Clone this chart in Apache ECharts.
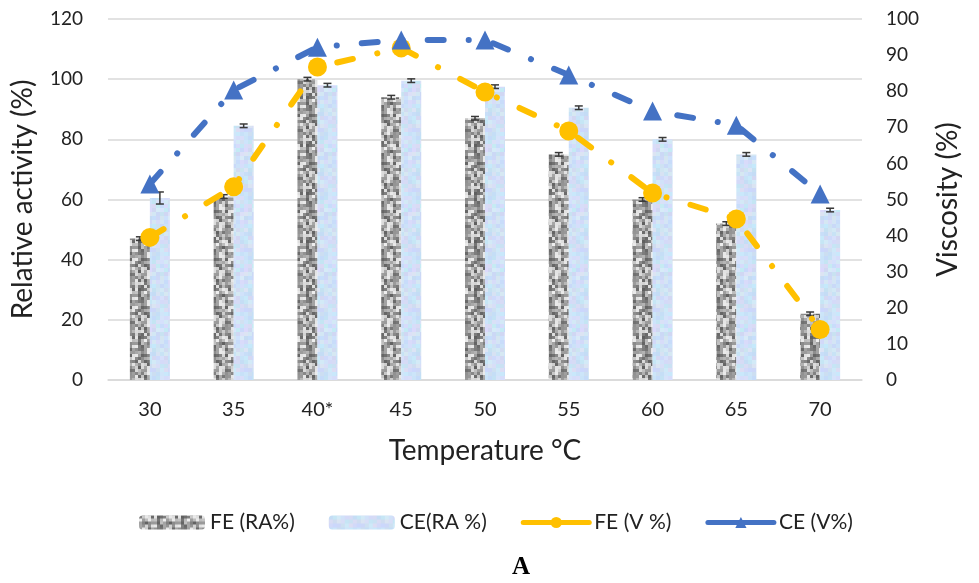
<!DOCTYPE html>
<html>
<head>
<meta charset="utf-8">
<script src="https://cdn.jsdelivr.net/npm/echarts@6/dist/echarts.min.js"></script>
<style>
html,body{margin:0;padding:0;background:#fff;}
#chart{width:979px;height:583px;}
</style>
</head>
<body>
<div id="chart"></div>
<script>
const categories = ['30','35','40*','45','50','55','60','65','70'];
const feRA = [47, 61, 100, 94, 87, 75, 60, 52, 22];
const ceRA = [60.5, 84.5, 98, 99.5, 97.5, 90.5, 80, 75, 56.5];
const feRAerr = [0.6, 0.6, 0.6, 0.6, 0.6, 0.6, 0.6, 0.6, 0.6];
const ceRAerr = [2, 0.6, 0.6, 0.6, 0.6, 0.6, 0.6, 0.6, 0.6];
const feV = [39.5, 53.5, 86.7, 92, 79.8, 69, 51.8, 44.6, 14];
const ceV = [54.3, 80.3, 92.2, 94.2, 94.2, 84.5, 74.5, 70.6, 51.5];
const leftTicks = [0, 20, 40, 60, 80, 100, 120];
const rightTicks = [0, 10, 20, 30, 40, 50, 60, 70, 80, 90, 100];

function hash(i, j, s) {
  const x = Math.sin(i * 12.9898 + j * 78.233 + s * 37.719) * 43758.5453;
  return x - Math.floor(x);
}
function makeFE() {
  const c = document.createElement('canvas');
  c.width = 24; c.height = 48;
  const g = c.getContext('2d');
  const cs = 3;
  for (let i = 0; i < c.width / cs; i++) {
    for (let j = 0; j < c.height / cs; j++) {
      const v = Math.round(95 + hash(i, j, 1) * 145);
      g.fillStyle = 'rgb(' + v + ',' + v + ',' + v + ')';
      g.fillRect(i * cs, j * cs, cs, cs);
    }
  }
  return c;
}
function makeCE() {
  const c = document.createElement('canvas');
  c.width = 24; c.height = 60;
  const g = c.getContext('2d');
  const cs = 4;
  for (let i = 0; i < c.width / cs; i++) {
    for (let j = 0; j < c.height / cs; j++) {
      const t = hash(i, j, 2), u = hash(i, j, 3);
      const r = Math.round(195 + t * 25);
      const gg = Math.round(215 + u * 20);
      const b = Math.round(240 + hash(i, j, 4) * 12);
      g.fillStyle = 'rgb(' + r + ',' + gg + ',' + b + ')';
      g.fillRect(i * cs, j * cs, cs, cs);
    }
  }
  return c;
}
const fePattern = { image: makeFE(), repeat: 'repeat' };
const cePattern = { image: makeCE(), repeat: 'repeat' };

const FONT = 'Lato';
const chart = echarts.init(document.getElementById('chart'), null, { renderer: 'canvas' });

function errSeries(vals, errs, offset) {
  return {
    type: 'custom',
    yAxisIndex: 0,
    z: 5,
    silent: true,
    renderItem: function (params, api) {
      const idx = api.value(0);
      const v = api.value(1), e = api.value(2);
      const top = api.coord([idx, v + e]);
      const bot = api.coord([idx, v - e]);
      const x = top[0] + offset;
      const w = 4;
      const st = { stroke: '#3a3a3a', lineWidth: 1.5 };
      return {
        type: 'group',
        children: [
          { type: 'line', shape: { x1: x, y1: top[1], x2: x, y2: bot[1] }, style: st },
          { type: 'line', shape: { x1: x - w, y1: top[1], x2: x + w, y2: top[1] }, style: st },
          { type: 'line', shape: { x1: x - w, y1: bot[1], x2: x + w, y2: bot[1] }, style: st }
        ]
      };
    },
    data: vals.map((v, i) => [i, v, errs[i]])
  };
}

const dash = [16, 25, 0.1, 25];

const option = {
  animation: false,
  backgroundColor: '#fff',
  grid: { left: 108, right: 117, top: 19, bottom: 203, containLabel: false },
  legend: {
    top: 507,
    left: 134,
    itemWidth: 66,
    itemHeight: 14,
    itemGap: 34,
    textStyle: { fontFamily: FONT, fontSize: 21, color: '#222' },
    lineStyle: { width: 5, type: 'solid', cap: 'round' },
    data: ['FE (RA%)', 'CE(RA %)', 'FE (V %)', 'CE (V%)']
  },
  title: {
    text: 'A',
    left: 507,
    top: 550,
    textStyle: { fontFamily: 'Liberation Serif', fontWeight: 'bold', fontSize: 25, color: '#000' }
  },
  xAxis: {
    type: 'category',
    data: categories,
    name: 'Temperature °C',
    nameLocation: 'middle',
    nameGap: 57,
    nameTextStyle: { fontFamily: FONT, fontSize: 28, color: '#222' },
    axisLine: { lineStyle: { color: '#d9d9d9', width: 1.5 } },
    axisTick: { show: false },
    axisLabel: { fontFamily: FONT, fontSize: 20, color: '#222', margin: 20 }
  },
  yAxis: [
    {
      type: 'value', min: 0, max: 120, interval: 20,
      name: 'Relative activity (%)',
      nameLocation: 'middle',
      nameGap: 71,
      nameTextStyle: { fontFamily: FONT, fontSize: 28, color: '#222' },
      axisLine: { show: false },
      axisTick: { show: false },
      axisLabel: { fontFamily: FONT, fontSize: 19, color: '#222', margin: 25 },
      splitLine: { lineStyle: { color: '#d9d9d9', width: 1.5 } }
    },
    {
      type: 'value', min: 0, max: 100, interval: 10,
      name: 'Viscosity (%)',
      nameLocation: 'middle',
      nameGap: 72,
      nameRotate: 90,
      nameTextStyle: { fontFamily: FONT, fontSize: 28, color: '#222' },
      axisLine: { show: false },
      axisTick: { show: false },
      axisLabel: { fontFamily: FONT, fontSize: 19, color: '#222', margin: 24 },
      splitLine: { show: false }
    }
  ],
  series: [
    {
      name: 'FE (RA%)', type: 'bar', yAxisIndex: 0,
      barWidth: 20, barGap: '0%',
      itemStyle: { color: fePattern },
      data: feRA
    },
    {
      name: 'CE(RA %)', type: 'bar', yAxisIndex: 0,
      barWidth: 20, barGap: '0%',
      itemStyle: { color: cePattern },
      data: ceRA
    },
    errSeries(feRA, feRAerr, -10),
    errSeries(ceRA, ceRAerr, 10),
    {
      name: 'FE (V %)', type: 'line', yAxisIndex: 1, z: 10,
      symbol: 'circle', symbolSize: 19,
      itemStyle: { color: '#FFC000' },
      lineStyle: { color: '#FFC000', width: 6, type: dash, cap: 'round' },
      data: feV
    },
    {
      name: 'CE (V%)', type: 'line', yAxisIndex: 1, z: 11,
      symbol: 'triangle', symbolSize: 19,
      itemStyle: { color: '#4472C4' },
      lineStyle: { color: '#4472C4', width: 6, type: dash, cap: 'round' },
      data: ceV
    }
  ]
};
chart.setOption(option);
</script>
</body>
</html>
